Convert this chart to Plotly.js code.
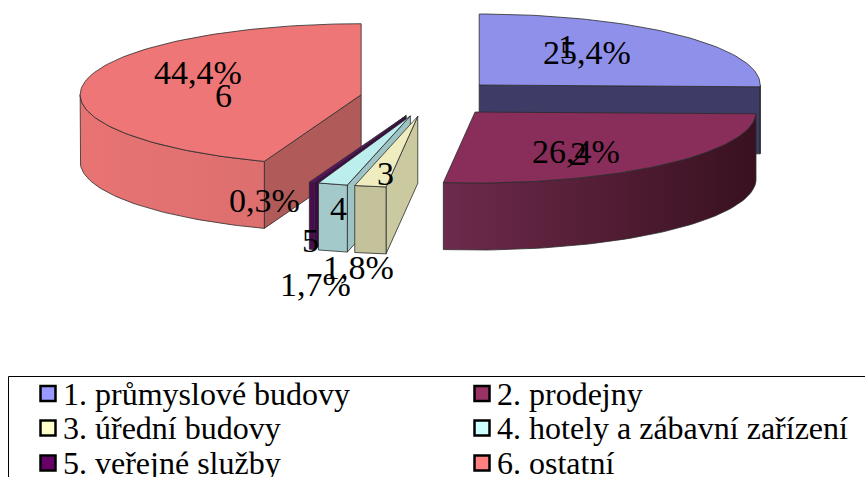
<!DOCTYPE html>
<html>
<head>
<meta charset="utf-8">
<script src="https://cdn.plot.ly/plotly-3.0.1.min.js"></script>
<style>html,body{margin:0;padding:0;background:#fff;overflow:hidden}#chart{width:865px;height:477px}</style>
</head>
<body>
<div id="chart"></div>
<script>
// Building stock shares by category
const categories = ['1. průmyslové budovy','2. prodejny','3. úřední budovy','4. hotely a zábavní zařízení','5. veřejné služby','6. ostatní'];
const shares = [25.4, 26.4, 1.8, 1.7, 0.3, 44.4];
const shareTexts = ['25,4%','26,4%','1,8%','1,7%','0,3%','44,4%'];
const sliceNumbers = ['1','2','3','4','5','6'];

const legendColors = ['#9999ff','#993366','#ffffcc','#ccffff','#660066','#ff8080'];
const topColors = ['#8f90ea','#892d5b','#efecbf','#bdeeee','#5e0f66','#ee7676'];
const faceColors = ['#3e3c66','#3f1428','#cbc9a0','#9dc3c4','#3f0a45','#b05a5a'];
const sideLeft = ['#3e3c66','#6e2a4c','#c4c29b','#a3c9ca','#4a0c50','#e87373'];
const sideRight = ['#3e3c66','#38111f','#c4c29b','#a3c9ca','#4a0c50','#dd6f6f'];

// Pie projection, in canvas pixels
const pie = {cx: 429.5, cy: 98, rx: 281, ry: 71, depth: 67, pullX: 69.4, pullY: 18.6};
const edge = '#2b2b2b';
const rad = d => d * Math.PI / 180;

function rim(apex, deg, drop) {
  return [apex[0] + pie.rx * Math.sin(rad(deg)), apex[1] - pie.ry * Math.cos(rad(deg)) + drop];
}
function arc(apex, from, to, drop) {
  const pts = [], n = Math.max(2, Math.ceil(Math.abs(to - from) / 1.5));
  for (let i = 0; i <= n; i++) pts.push(rim(apex, from + (to - from) * i / n, drop));
  return pts;
}
function poly(pts, color, gradient) {
  const t = {
    x: pts.map(p => p[0]).concat(pts[0][0]),
    y: pts.map(p => p[1]).concat(pts[0][1]),
    mode: 'lines', fill: 'toself', fillcolor: color,
    line: {color: edge, width: 0.8}, hoverinfo: 'skip', showlegend: false
  };
  if (gradient) t.fillgradient = {type: 'horizontal', colorscale: [[0, gradient[0]], [1, gradient[1]]]};
  return t;
}

// Slices are stacked back to front: 1, 6, 5, 4, 3, 2
const total = shares.reduce((a, b) => a + b, 0);
let running = 0;
const slices = shares.map((v, i) => {
  const start = running / total * 360;
  running += v;
  const end = running / total * 360, mid = rad((start + end) / 2);
  return {i, start, end, apex: [pie.cx + pie.pullX * Math.sin(mid), pie.cy - pie.pullY * Math.cos(mid)]};
});

const traces = [];
[0, 5, 4, 3, 2, 1].forEach(k => {
  const s = slices[k], d = pie.depth, a = s.apex;
  const apexLow = [a[0], a[1] + d];
  if (Math.sin(rad(s.start)) < -1e-6)
    traces.push(poly([a, rim(a, s.start, 0), rim(a, s.start, d), apexLow], faceColors[k]));
  if (Math.sin(rad(s.end)) > 1e-6)
    traces.push(poly([a, rim(a, s.end, 0), rim(a, s.end, d), apexLow], faceColors[k]));
  const lo = Math.max(s.start, 90), hi = Math.min(s.end, 270);
  if (hi > lo) {
    const band = arc(a, lo, hi, 0).concat(arc(a, hi, lo, d));
    traces.push(poly(band, sideLeft[k], [sideLeft[k], sideRight[k]]));
  }
  traces.push(poly([a].concat(arc(a, s.start, s.end, 0)), topColors[k]));
});

// Key box entries, two columns of three rows
const keyColumnX = [48, 482], keyTextX = [61, 495], keyRowY = [393.5, 428, 463];
const keyX = categories.map((_, i) => keyColumnX[i % 2]);
const keyY = categories.map((_, i) => keyRowY[Math.floor(i / 2)]);
traces.push({
  x: keyX, y: keyY, mode: 'markers', hoverinfo: 'skip', showlegend: false,
  marker: {symbol: 'square', size: 15, color: legendColors, line: {color: '#000', width: 2.5}}
});

const font = 'Liberation Serif, Times New Roman, serif';
const note = (text, x, y, size) => ({
  text, x, y, xref: 'x', yref: 'y', showarrow: false,
  xanchor: 'center', yanchor: 'middle', font: {family: font, size, color: '#000'}
});
const valueSpots = [[587,52],[576,151],[358,267],[315,284],[264,200],[198,72]];
const numberSpots = [[566,46],[578,153],[385,173],[338,208],[310,240],[223,95]];
const annotations = [];
shareTexts.forEach((t, i) => annotations.push(note(t, valueSpots[i][0], valueSpots[i][1], 34)));
sliceNumbers.forEach((t, i) => annotations.push(note(t, numberSpots[i][0], numberSpots[i][1], 34)));
categories.forEach((t, i) => annotations.push({
  text: t, x: keyTextX[i % 2], y: keyY[i], xref: 'x', yref: 'y', showarrow: false,
  xanchor: 'left', yanchor: 'middle', font: {family: font, size: 32, color: '#000'}
}));

const hidden = {visible: false, fixedrange: true};
Plotly.newPlot('chart', traces, {
  width: 865, height: 477,
  margin: {l: 0, r: 0, t: 0, b: 0},
  paper_bgcolor: '#fff', plot_bgcolor: '#fff', showlegend: false,
  xaxis: Object.assign({range: [0, 865]}, hidden),
  yaxis: Object.assign({range: [477, 0]}, hidden),
  shapes: [{type: 'rect', xref: 'x', yref: 'y', x0: 8.5, x1: 880, y0: 376.5, y1: 500, line: {color: '#000', width: 1}, fillcolor: 'rgba(0,0,0,0)', layer: 'below'}],
  annotations
}, {displayModeBar: false, staticPlot: true});
</script>
</body>
</html>
